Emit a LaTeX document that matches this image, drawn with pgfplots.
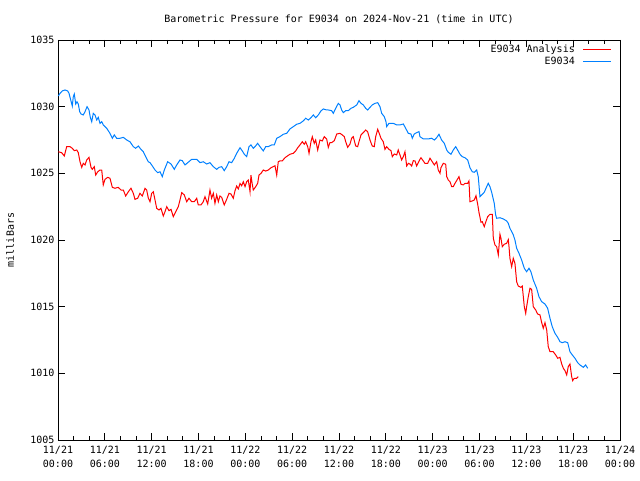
\documentclass[border=0pt]{standalone}
\usepackage{pgfplots}
\pgfplotsset{compat=1.18}
\usepackage{fontspec}
\setmainfont{DejaVu Sans Mono}
\definecolor{gpblue}{RGB}{0,128,255}
\definecolor{gpred}{RGB}{255,0,0}
\newcommand{\gpfont}{\fontsize{10pt}{14pt}\selectfont}
\begin{document}
\begin{tikzpicture}
\useasboundingbox (0,0) rectangle (640pt,480pt);
\begin{axis}[
  at={(58pt,40pt)}, anchor=south west,
  scale only axis, width=562pt, height=400pt,
  xmin=0, xmax=72, ymin=1005, ymax=1035,
  xtick={0,6,...,72},
  xticklabels={{11/21\\00:00},{11/21\\06:00},{11/21\\12:00},{11/21\\18:00},{11/22\\00:00},{11/22\\06:00},{11/22\\12:00},{11/22\\18:00},{11/23\\00:00},{11/23\\06:00},{11/23\\12:00},{11/23\\18:00},{11/24\\00:00}},
  xticklabel style={align=center, font=\gpfont, yshift=-3pt},
  minor x tick num=2,
  ytick={1005,1010,...,1035},
  yticklabel style={font=\gpfont},
  /pgf/number format/assume math mode=true,
  /pgf/number format/1000 sep={},
  tick align=inside,
  major tick length=7pt, minor tick length=4pt,
  every tick/.style={black, line width=0.8pt},
  axis line style={line width=0.8pt},
  title={Barometric Pressure for E9034 on 2024-Nov-21 (time in UTC)},
  title style={font=\gpfont, at={(axis description cs:0.5,1)}, anchor=base, yshift=11pt},
  ylabel={milliBars},
  ylabel style={font=\gpfont, at={(axis description cs:-0.0854,0.5)}, anchor=center},
  legend plot pos=right,
  legend cell align=right,
  legend image code/.code={\path (0pt,0pt); \draw[#1] (6pt,0pt) -- (34pt,0pt);},
  legend style={at={(1,1)}, anchor=north east, xshift=-8pt, yshift=-3pt, draw=none, fill=none, font=\gpfont, inner sep=0pt, row sep=-1pt},
]
\addplot[gpred, line width=1pt] table {
0.04 1026.62
0.47 1026.55
0.81 1026.30
1.11 1027.00
1.54 1027.00
1.83 1026.88
2.09 1026.70
2.40 1026.75
2.60 1026.55
2.82 1025.87
3.04 1025.45
3.24 1025.75
3.46 1025.63
3.68 1026.00
3.97 1026.20
4.23 1025.45
4.39 1025.30
4.65 1025.50
4.83 1024.87
5.09 1025.12
5.38 1025.25
5.60 1025.25
5.80 1024.13
6.02 1024.55
6.37 1024.70
6.66 1024.63
6.96 1023.95
7.30 1023.88
7.72 1023.95
8.07 1023.75
8.37 1023.75
8.67 1023.30
9.01 1023.62
9.35 1023.88
9.65 1023.50
9.86 1023.05
10.21 1023.13
10.50 1023.50
10.80 1023.30
11.15 1023.88
11.36 1023.75
11.57 1023.15
11.79 1022.87
12.00 1023.50
12.21 1023.62
12.43 1023.00
12.64 1022.38
12.94 1022.25
13.19 1022.38
13.36 1022.05
13.49 1021.80
13.71 1022.12
13.93 1022.50
14.22 1022.20
14.48 1022.30
14.77 1021.75
15.08 1022.12
15.41 1022.50
15.63 1023.00
15.85 1023.55
16.18 1023.38
16.49 1022.87
16.78 1023.13
17.13 1022.87
17.46 1022.87
17.77 1023.13
17.97 1022.63
18.32 1022.63
18.61 1022.87
18.83 1023.25
19.18 1022.70
19.47 1023.75
19.68 1023.13
19.90 1023.50
20.11 1022.75
20.33 1023.38
20.54 1022.87
20.75 1023.30
20.97 1023.20
21.30 1022.63
21.61 1023.05
21.91 1023.50
22.16 1023.45
22.46 1023.13
22.67 1023.68
22.89 1024.05
23.10 1023.83
23.32 1024.24
23.53 1024.07
23.74 1024.37
23.96 1024.00
24.17 1024.37
24.38 1024.50
24.60 1023.62
24.72 1024.87
24.89 1024.18
25.02 1023.75
25.33 1024.00
25.58 1024.25
25.75 1024.87
26.01 1025.00
26.30 1025.25
26.61 1025.17
26.94 1025.25
27.29 1025.42
27.58 1025.50
27.80 1025.57
28.02 1024.87
28.22 1025.87
28.44 1025.93
28.73 1025.93
29.08 1026.17
29.43 1026.32
29.72 1026.43
30.14 1026.50
30.45 1026.68
30.71 1026.92
31.00 1027.13
31.30 1027.37
31.55 1027.18
31.73 1027.37
31.99 1027.00
32.16 1026.50
32.41 1027.37
32.58 1027.75
32.83 1027.25
33.01 1027.50
33.27 1026.75
33.56 1027.50
33.86 1027.43
34.11 1027.75
34.42 1027.58
34.63 1026.94
34.84 1027.31
35.06 1027.30
35.40 1027.45
35.71 1027.95
36.13 1028.00
36.42 1027.88
36.68 1027.75
36.86 1027.37
37.11 1026.95
37.41 1027.20
37.62 1027.63
37.83 1027.75
38.14 1027.05
38.39 1027.00
38.56 1027.37
38.82 1027.88
39.11 1028.05
39.42 1028.25
39.67 1028.12
39.97 1027.50
40.26 1027.05
40.52 1027.00
40.70 1027.75
40.96 1028.30
41.12 1028.05
41.38 1027.63
41.67 1027.37
41.89 1026.80
42.11 1027.00
42.40 1026.80
42.66 1026.70
42.83 1026.25
43.08 1026.45
43.39 1026.38
43.59 1026.75
43.81 1026.38
44.03 1026.00
44.24 1026.25
44.45 1026.62
44.67 1025.55
44.88 1025.75
45.09 1025.70
45.31 1025.55
45.52 1025.95
45.74 1025.93
45.95 1025.55
46.16 1025.80
46.37 1026.05
46.50 1026.17
46.80 1025.93
47.01 1025.75
47.36 1025.75
47.66 1026.13
47.95 1025.87
48.21 1025.63
48.51 1025.87
48.72 1025.25
48.94 1025.00
49.06 1025.42
49.36 1025.75
49.67 1025.68
49.80 1024.75
50.00 1024.50
50.22 1024.37
50.44 1024.00
50.64 1024.00
50.86 1024.25
51.20 1024.58
51.37 1024.75
51.63 1024.18
51.92 1024.13
52.14 1024.25
52.49 1024.25
52.65 1024.43
52.78 1022.87
53.07 1022.93
53.33 1023.00
53.55 1023.32
53.77 1022.68
53.93 1022.08
54.19 1021.33
54.36 1021.37
54.61 1021.00
54.79 1021.33
55.05 1021.75
55.34 1021.93
55.64 1021.93
55.77 1020.13
55.98 1019.63
56.20 1019.50
56.41 1018.88
56.62 1020.43
56.75 1020.13
56.92 1019.50
57.17 1019.68
57.48 1019.75
57.69 1020.03
57.78 1019.50
57.90 1018.63
58.12 1018.00
58.33 1018.63
58.54 1018.25
58.76 1016.87
58.96 1016.55
59.31 1016.45
59.48 1016.55
59.74 1015.00
59.92 1014.50
60.04 1015.00
60.25 1015.75
60.47 1016.38
60.68 1016.30
60.89 1015.00
61.20 1014.75
61.45 1014.45
61.75 1014.38
61.97 1013.80
62.17 1013.38
62.39 1013.80
62.61 1013.25
62.81 1012.00
63.03 1011.62
63.45 1011.62
63.76 1011.38
64.02 1011.13
64.31 1011.20
64.53 1010.70
64.74 1010.38
64.95 1010.20
65.17 1009.88
65.37 1010.50
65.59 1010.70
65.81 1009.75
65.94 1009.45
66.14 1009.63
66.45 1009.63
66.65 1009.75
};
\addlegendentry{E9034 Analysis}
\addplot[gpblue, line width=1pt] table {
0.04 1030.80
0.26 1031.00
0.55 1031.18
0.90 1031.25
1.24 1031.18
1.41 1031.00
1.63 1030.50
1.83 1030.05
1.96 1030.75
2.09 1030.95
2.27 1030.20
2.43 1030.37
2.60 1030.20
2.78 1029.62
2.95 1029.45
3.24 1029.38
3.46 1029.62
3.72 1030.00
3.97 1029.75
4.14 1029.20
4.32 1028.87
4.52 1029.50
4.74 1029.38
4.96 1029.00
5.16 1029.20
5.38 1028.75
5.60 1028.87
5.80 1028.63
6.24 1028.38
6.66 1028.00
6.96 1027.63
7.21 1027.88
7.52 1027.63
7.94 1027.63
8.37 1027.70
8.80 1027.50
9.22 1027.37
9.65 1027.00
9.95 1026.88
10.29 1027.05
10.63 1026.80
10.93 1026.62
11.23 1026.25
11.57 1025.87
11.79 1025.80
12.00 1025.63
12.43 1025.25
12.77 1025.05
13.07 1025.12
13.36 1024.75
13.62 1025.25
14.05 1025.87
14.48 1025.70
14.90 1025.30
15.21 1025.63
15.63 1026.00
15.92 1025.95
16.27 1025.63
16.62 1025.80
17.13 1026.05
17.77 1026.05
18.19 1025.80
18.61 1025.87
19.05 1025.70
19.47 1025.80
19.90 1025.50
20.33 1025.30
20.63 1025.45
20.97 1025.50
21.30 1025.20
21.61 1025.50
21.91 1025.87
22.25 1025.80
22.59 1026.13
22.89 1026.50
23.32 1026.92
23.61 1026.68
23.87 1026.43
24.17 1026.25
24.47 1027.00
24.72 1027.13
25.02 1026.88
25.24 1027.00
25.58 1027.25
25.88 1027.00
26.30 1026.68
26.61 1027.00
26.94 1027.00
27.38 1027.13
27.71 1027.13
28.02 1027.63
28.44 1027.75
28.86 1027.93
29.30 1028.00
29.72 1028.33
30.14 1028.50
30.58 1028.68
31.00 1028.75
31.42 1028.93
31.73 1029.13
32.07 1029.00
32.41 1029.17
32.71 1029.38
33.01 1029.17
33.35 1029.38
33.69 1029.68
33.99 1029.83
34.42 1029.75
34.63 1029.75
35.06 1029.70
35.27 1029.50
35.58 1029.88
35.91 1030.25
36.13 1030.13
36.34 1029.75
36.55 1029.55
36.86 1029.70
37.19 1029.70
37.54 1029.88
37.83 1029.95
38.27 1030.13
38.56 1030.45
38.82 1030.25
39.11 1030.13
39.42 1029.88
39.67 1029.75
39.97 1029.95
40.26 1030.13
40.61 1030.25
40.96 1030.30
41.25 1030.00
41.47 1029.50
41.80 1029.25
42.02 1028.87
42.11 1028.50
42.40 1028.75
42.95 1028.75
43.39 1028.63
43.81 1028.63
44.24 1028.70
44.54 1028.38
44.88 1028.00
45.22 1027.95
45.39 1027.63
45.64 1027.95
45.95 1028.05
46.25 1028.13
46.37 1027.75
46.80 1027.58
47.44 1027.58
47.87 1027.63
48.21 1027.50
48.51 1027.67
48.81 1027.93
49.15 1027.50
49.49 1027.25
49.80 1026.75
50.00 1026.58
50.35 1026.43
50.64 1026.75
50.95 1027.00
51.20 1026.75
51.50 1026.43
51.79 1026.25
52.14 1026.17
52.49 1026.00
52.78 1025.42
53.07 1025.12
53.33 1025.08
53.64 1025.25
53.84 1024.75
54.06 1023.25
54.28 1023.38
54.61 1023.58
54.92 1024.00
55.12 1024.25
55.34 1024.00
55.56 1023.58
55.89 1022.75
56.07 1021.88
56.20 1021.63
56.62 1021.67
57.05 1021.58
57.48 1021.43
57.69 1021.25
57.90 1020.88
58.33 1020.38
58.54 1020.00
58.76 1019.38
59.06 1019.00
59.40 1018.50
59.74 1017.88
60.04 1017.62
60.34 1017.88
60.59 1017.62
60.89 1017.00
61.32 1016.38
61.62 1015.75
61.97 1015.37
62.39 1015.20
62.73 1014.88
63.03 1014.13
63.32 1013.50
63.67 1013.00
64.02 1012.70
64.31 1012.37
64.60 1012.30
64.95 1012.37
65.30 1012.30
65.59 1011.62
65.89 1011.38
66.23 1011.13
66.58 1010.80
66.87 1010.63
67.30 1010.45
67.60 1010.63
67.86 1010.38
};
\addlegendentry{E9034}
\end{axis}
\end{tikzpicture}
\end{document}
